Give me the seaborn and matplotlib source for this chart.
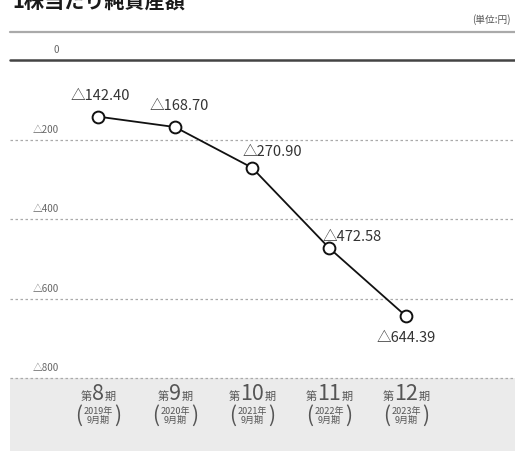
import matplotlib
matplotlib.use("Agg")
import matplotlib.pyplot as plt
import seaborn as sns
import numpy as np
import pandas as pd
from matplotlib.lines import Line2D
from matplotlib.offsetbox import TextArea, HPacker, VPacker, AnnotationBbox
import matplotlib.transforms as mtransforms

sns.set_theme(style="white")
plt.rcParams['font.family'] = ['Noto Sans CJK JP', 'DejaVu Sans']

# ---- data ----
periods = ["8", "9", "10", "11", "12"]
years = ["2019", "2020", "2021", "2022", "2023"]
values = [-142.40, -168.70, -270.90, -472.58, -644.39]
value_labels = ["△142.40", "△168.70", "△270.90", "△472.58", "△644.39"]
yticks = [0, -200, -400, -600, -800]
ytick_labels = ["0", "△200", "△400", "△600", "△800"]
title = "1株当たり純資産額"
unit = "(単位:円)"

# ---- styles ----
label_offsets = [(2, 15), (3, 15), (15, 11), (17, 8), (0, -16)]  # points

W, H = 515, 451
fig = plt.figure(figsize=(W / 100, H / 100), dpi=100)
fig.patch.set_facecolor("white")

ax_top_px = 60
ax = fig.add_axes([10 / W, 0, 505 / W, (H - ax_top_px) / H])
scale = 318 / 800  # px per unit
ax.set_ylim(-(H - ax_top_px) / scale, 0)
ax.set_xlim((10 - 98) / 77, (515 - 98) / 77)
ax.set_facecolor("white")
for s in ax.spines.values():
    s.set_visible(False)
ax.set_xticks([])
ax.set_yticks([])

# grey band at bottom
ax.axhspan(-800, -2000, color="#ebebeb", zorder=0, lw=0)

# gridlines
for v in yticks[1:]:
    ax.axhline(v, color="#aaaaaa", lw=0.9, ls=(0, (2, 2)), zorder=1)
ax.axhline(0, color="#444444", lw=1.8, zorder=2, clip_on=False)

# top grey rule
fig.add_artist(Line2D([10 / W, 1.0], [1 - 32 / H, 1 - 32 / H],
                      transform=fig.transFigure, color="#aaaaaa", lw=1.6))

# line
df = pd.DataFrame({"x": np.arange(len(values)), "y": values})
sns.lineplot(data=df, x="x", y="y", ax=ax, color="#111111", lw=1.3,
             marker="o", markersize=8.5, markerfacecolor="white",
             markeredgecolor="#111111", markeredgewidth=1.4, zorder=5)
ax.set_xlabel("")
ax.set_ylabel("")

# value labels
for i, (v, lab) in enumerate(zip(values, value_labels)):
    dx, dy = label_offsets[i]
    ax.annotate(lab, (i, v), xytext=(dx, dy), textcoords="offset points",
                ha="center", va="center", fontsize=10.5, color="#333333",
                zorder=6)

# y tick labels
trans = mtransforms.blended_transform_factory(fig.transFigure, ax.transData)
for v, lab in zip(yticks, ytick_labels):
    ax.annotate(lab, (59 / W, v), xycoords=trans, xytext=(0, 7),
                textcoords="offset points", ha="right", va="center",
                fontsize=7, color="#666666", annotation_clip=False)

# x labels inside band
xc = "#555555"
for i, (p, yr) in enumerate(zip(periods, years)):
    line1 = HPacker(children=[
        TextArea("第", textprops=dict(fontsize=8, color=xc)),
        TextArea(p, textprops=dict(fontsize=15.5, color=xc)),
        TextArea("期", textprops=dict(fontsize=8, color=xc)),
    ], align="baseline", pad=0, sep=0.5)
    inner = VPacker(children=[
        TextArea(yr + "年", textprops=dict(fontsize=6.5, color=xc)),
        TextArea("9月期", textprops=dict(fontsize=6.5, color=xc)),
    ], align="center", pad=0, sep=0)
    line2 = HPacker(children=[
        TextArea("(", textprops=dict(fontsize=15, color=xc)),
        inner,
        TextArea(")", textprops=dict(fontsize=15, color=xc)),
    ], align="center", pad=0, sep=1)
    block = VPacker(children=[line1, line2], align="center", pad=0, sep=0)
    ab = AnnotationBbox(block, (i, -(405 - ax_top_px) / scale), frameon=False,
                        box_alignment=(0.5, 0.5), zorder=4)
    ax.add_artist(ab)

# title & unit
fig.text(12 / W, 1 - 1.5 / H, title, ha="left", va="center", fontsize=14.5,
         fontweight="bold", color="#1a1a1a")
fig.text(511 / W, 1 - 20 / H, unit, ha="right", va="center", fontsize=7,
         color="#555555")

fig.savefig("out.png", dpi=100, facecolor="white")
